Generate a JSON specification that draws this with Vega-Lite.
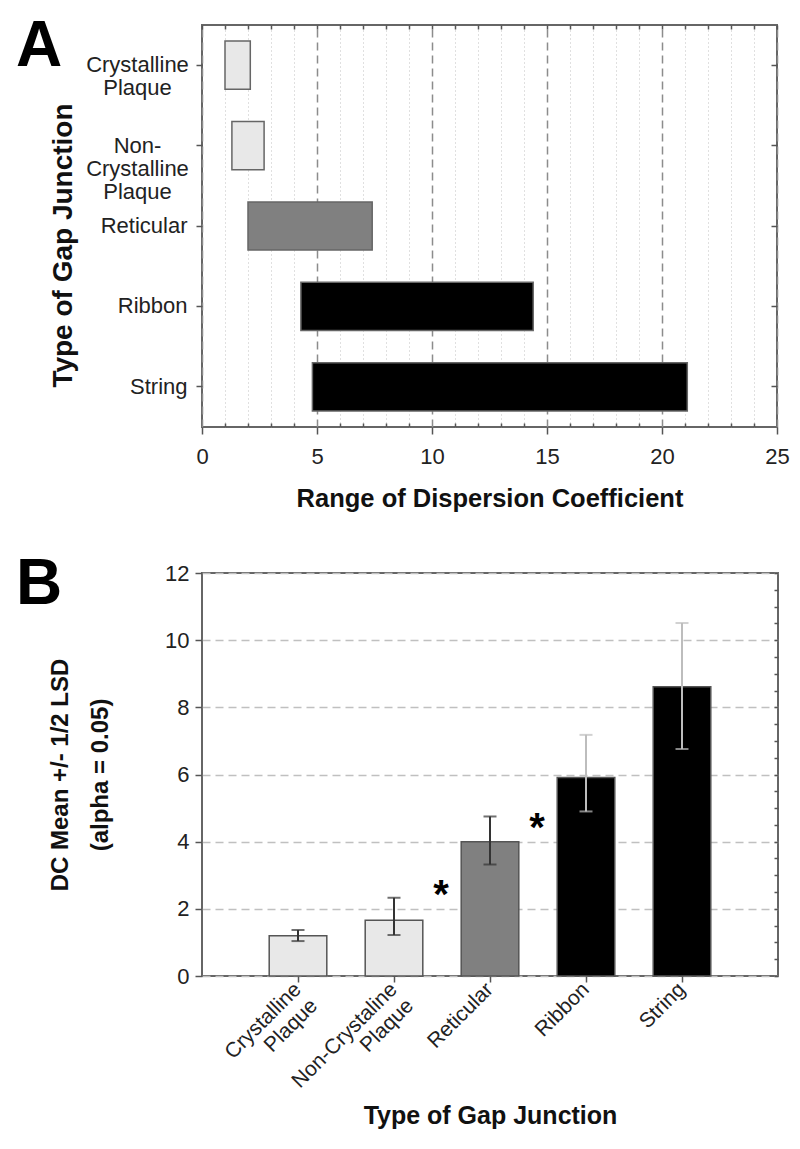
{
  "$schema": "https://vega.github.io/schema/vega-lite/v6.json",
  "background": "white",
  "padding": {"left": 15, "top": 14, "right": 20, "bottom": 5},
  "config": {
    "font": "Liberation Sans",
    "view": {"stroke": "#666666", "strokeWidth": 2},
    "axis": {"domain": false, "tickColor": "#555555", "tickWidth": 1.5, "labelColor": "#222222", "titleColor": "#111111", "labelFont": "Liberation Sans", "titleFont": "Liberation Sans", "titleFontWeight": "bold", "labelOverlap": false, "labelFlush": false},
    "title": {"font": "Liberation Sans", "fontSize": 64, "fontWeight": "bold", "color": "#000000", "anchor": "start", "frame": "group", "baseline": "top", "offset": -65}
  },
  "spacing": 39,
  "vconcat": [
    {
      "width": 575,
      "height": 402,
      "title": {"text": "A", "dx": -186, "dy": -10},
      "data": {"values": [
        {"type": "Crystalline Plaque", "lo": 1.0, "hi": 2.1},
        {"type": "Non-Crystalline Plaque", "lo": 1.3, "hi": 2.7},
        {"type": "Reticular", "lo": 2.0, "hi": 7.4},
        {"type": "Ribbon", "lo": 4.3, "hi": 14.4},
        {"type": "String", "lo": 4.8, "hi": 21.1}
      ]},
      "layer": [
        {
          "mark": {"type": "bar", "stroke": "#666666", "strokeWidth": 1.5},
          "encoding": {
            "y": {"field": "type", "type": "nominal", "sort": null,
              "scale": {"paddingInner": 0.4, "paddingOuter": 0.2},
              "axis": {"title": "Type of Gap Junction", "titleFontSize": 28, "titlePadding": 8, "titleY": 220, "labelFontSize": 22, "labelLineHeight": 23, "tickSize": 6, "grid": false,
                "labelExpr": "datum.value === 'Crystalline Plaque' ? ['Crystalline','Plaque'] : datum.value === 'Non-Crystalline Plaque' ? ['Non-','Crystalline','Plaque'] : datum.label",
                "labelAlign": {"condition": {"test": "indexof(datum.value, 'Plaque') >= 0", "value": "center"}, "value": "right"},
                "labelPadding": {"condition": {"test": "indexof(datum.value, 'Plaque') >= 0", "value": 59}, "value": 9}}},
            "x": {"field": "lo", "type": "quantitative",
              "scale": {"domain": [0, 25], "nice": false},
              "axis": {"orient": "bottom", "title": "Range of Dispersion Coefficient", "titleFontSize": 25.5, "titlePadding": 19, "labelFontSize": 22, "labelPadding": 12,
                "values": [0,1,2,3,4,5,6,7,8,9,10,11,12,13,14,15,16,17,18,19,20,21,22,23,24,25],
                "labelExpr": "datum.value % 5 === 0 ? datum.label : ''",
                "grid": true,
                "gridColor": {"condition": {"test": "datum.value % 5 === 0", "value": "#8c8c8c"}, "value": "#c0c0c0"},
                "gridDash": {"condition": {"test": "datum.value % 5 === 0", "value": [8, 5]}, "value": [1, 3]},
                "gridWidth": {"condition": {"test": "datum.value % 5 === 0", "value": 1.5}, "value": 1},
                "tickSize": {"condition": {"test": "datum.value % 5 === 0", "value": 7}, "value": -4}}},
            "x2": {"field": "hi"},
            "fill": {"field": "type", "type": "nominal", "legend": null,
              "scale": {"domain": ["Crystalline Plaque", "Non-Crystalline Plaque", "Reticular", "Ribbon", "String"], "range": ["#e8e8e8", "#e8e8e8", "#808080", "#000000", "#000000"]}}
          }
        },
        {
          "mark": {"type": "rule", "opacity": 0},
          "encoding": {
            "x": {"field": "lo", "type": "quantitative",
              "axis": {"orient": "top", "title": null, "labels": false, "grid": false, "tickSize": -4,
                "values": [0,1,2,3,4,5,6,7,8,9,10,11,12,13,14,15,16,17,18,19,20,21,22,23,24,25]}}
          }
        },
        {
          "mark": {"type": "rule", "opacity": 0},
          "encoding": {
            "y": {"field": "type", "type": "nominal", "sort": null,
              "axis": {"orient": "right", "title": null, "labels": false, "grid": false, "tickSize": -6}}
          }
        }
      ],
      "resolve": {"axis": {"x": "independent", "y": "independent"}}
    },
    {
      "width": 576,
      "height": 403,
      "title": {"text": "B", "dx": -186, "dy": -10},
      "data": {"values": [
        {"type": "Crystalline Plaque", "mean": 1.2, "lo": 1.04, "hi": 1.37},
        {"type": "Non-Crystaline Plaque", "mean": 1.66, "lo": 1.22, "hi": 2.33},
        {"type": "Reticular", "mean": 4.0, "lo": 3.32, "hi": 4.75},
        {"type": "Ribbon", "mean": 5.91, "lo": 4.9, "hi": 7.18},
        {"type": "String", "mean": 8.61, "lo": 6.76, "hi": 10.51}
      ]},
      "layer": [
        {
          "layer": [
            {
              "mark": {"type": "bar", "stroke": "#555555", "strokeWidth": 1.5},
              "encoding": {
                "x": {"field": "type", "type": "nominal", "sort": null,
                  "scale": {"paddingInner": 0.4, "paddingOuter": 0.7},
                  "axis": {"title": "Type of Gap Junction", "titleFontSize": 25, "titlePadding": -4, "labelFontSize": 21, "labelLineHeight": 23, "labelAngle": -45, "labelAlign": "right", "labelBaseline": "middle", "labelPadding": 4, "tickSize": 6, "grid": false,
                    "labelExpr": "datum.value === 'Crystalline Plaque' ? ['Crystalline','Plaque'] : datum.value === 'Non-Crystaline Plaque' ? ['Non-Crystaline','Plaque'] : datum.label"}},
                "y": {"field": "mean", "type": "quantitative",
                  "scale": {"domain": [0, 12], "nice": false},
                  "axis": {"title": ["DC Mean +/- 1/2 LSD", "(alpha = 0.05)"], "titleFontSize": 24, "titleLineHeight": 40, "titlePadding": 52, "labelFontSize": 22, "labelPadding": 6,
                    "values": [0,0.5,1,1.5,2,2.5,3,3.5,4,4.5,5,5.5,6,6.5,7,7.5,8,8.5,9,9.5,10,10.5,11,11.5,12],
                    "labelExpr": "datum.value % 2 === 0 ? datum.label : ''",
                    "grid": true,
                    "gridColor": {"condition": {"test": "datum.value % 2 === 0", "value": "#c0c0c0"}, "value": "#c8c8c8"},
                    "gridDash": {"condition": {"test": "datum.value % 2 === 0", "value": [8, 5]}, "value": [1, 3]},
                    "gridWidth": {"condition": {"test": "datum.value % 2 === 0", "value": 1.5}, "value": 1},
                    "tickSize": {"condition": {"test": "datum.value % 2 === 0", "value": 7}, "value": -4}}},
                "fill": {"field": "type", "type": "nominal", "legend": null,
                  "scale": {"domain": ["Crystalline Plaque", "Non-Crystaline Plaque", "Reticular", "Ribbon", "String"], "range": ["#e8e8e8", "#e8e8e8", "#808080", "#000000", "#000000"]}}
              }
            },
            {
              "mark": {"type": "rule", "strokeWidth": 2},
              "encoding": {
                "x": {"field": "type", "type": "nominal", "sort": null},
                "y": {"field": "lo", "type": "quantitative"},
                "y2": {"field": "hi"},
                "color": {"field": "type", "type": "nominal", "legend": null,
                  "scale": {"domain": ["Crystalline Plaque", "Non-Crystaline Plaque", "Reticular", "Ribbon", "String"], "range": ["#333333", "#333333", "#333333", "#bdbdbd", "#bdbdbd"]}}
              }
            },
            {
              "mark": {"type": "tick", "size": 13, "thickness": 2, "orient": "horizontal"},
              "encoding": {
                "x": {"field": "type", "type": "nominal", "sort": null},
                "y": {"field": "lo", "type": "quantitative"},
                "color": {"field": "type", "type": "nominal", "legend": null}
              }
            },
            {
              "mark": {"type": "tick", "size": 13, "thickness": 2, "orient": "horizontal"},
              "encoding": {
                "x": {"field": "type", "type": "nominal", "sort": null},
                "y": {"field": "hi", "type": "quantitative"},
                "color": {"field": "type", "type": "nominal", "legend": null}
              }
            },
            {
              "data": {"values": [
                {"type": "Reticular", "y": 2.71, "sig": "*"},
                {"type": "Ribbon", "y": 4.71, "sig": "*"}
              ]},
              "mark": {"type": "text", "fontSize": 40, "fontWeight": "bold", "color": "#000000", "baseline": "middle", "dx": -49, "dy": 11},
              "encoding": {
                "x": {"field": "type", "type": "nominal", "sort": null},
                "y": {"field": "y", "type": "quantitative"},
                "text": {"field": "sig"}
              }
            }
          ]
        },
        {
          "mark": {"type": "rule", "opacity": 0},
          "encoding": {
            "y": {"field": "mean", "type": "quantitative",
              "axis": {"orient": "right", "title": null, "labels": false, "grid": false, "tickSize": -4,
                "values": [0,0.5,1,1.5,2,2.5,3,3.5,4,4.5,5,5.5,6,6.5,7,7.5,8,8.5,9,9.5,10,10.5,11,11.5,12]}}
          }
        }
      ],
      "resolve": {"axis": {"y": "independent"}}
    }
  ]
}
